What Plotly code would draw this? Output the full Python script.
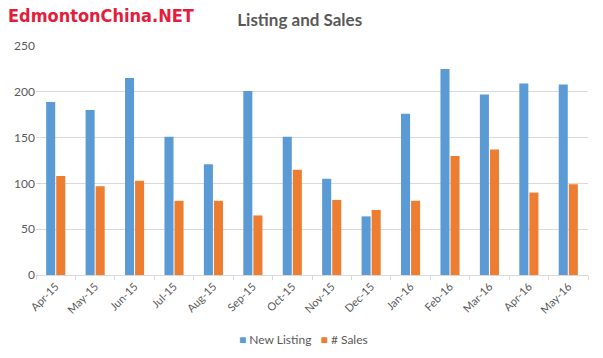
import plotly.graph_objects as go

months = ["Apr-15", "May-15", "Jun-15", "Jul-15", "Aug-15", "Sep-15", "Oct-15",
          "Nov-15", "Dec-15", "Jan-16", "Feb-16", "Mar-16", "Apr-16", "May-16"]
new_listing = [189, 180, 215, 151, 121, 201, 151, 105, 64, 176, 225, 197, 209, 208]
sales = [108, 97, 103, 81, 81, 65, 115, 82, 71, 81, 130, 137, 90, 99]
y_ticks = [0, 50, 100, 150, 200, 250]
series_names = ["New Listing", "# Sales"]
series_colors = ["#5B9BD5", "#ED7D31"]

FONT = "Lato, Open Sans, sans-serif"
GRAY = "#595959"

fig = go.Figure()
fig.add_trace(go.Bar(x=months, y=new_listing, name=series_names[0],
                     marker=dict(color=series_colors[0], line=dict(width=0))))
fig.add_trace(go.Bar(x=months, y=sales, name=series_names[1],
                     marker=dict(color=series_colors[1], line=dict(width=0))))

legend_text = "&nbsp;&nbsp;&nbsp;".join(
    f"<span style='color:{c}'>■</span> {n}" for n, c in zip(series_names, series_colors))

fig.update_layout(
    width=603, height=358,
    margin=dict(l=36, r=15, t=46, b=83, autoexpand=False),
    paper_bgcolor="white", plot_bgcolor="white",
    barmode="group", bargap=0.49, bargroupgap=0.1,
    font=dict(family=FONT, color=GRAY, size=11),
    title=dict(text="<b>Listing and Sales</b>", xref="container", x=0.497, xanchor="center",
               yref="container", y=1 - 20 / 358, yanchor="middle",
               font=dict(family=FONT, size=17, color=GRAY)),
    showlegend=False,
    xaxis=dict(type="category", tickangle=-45, showline=True, linecolor="#d9d9d9",
               linewidth=1, ticks="outside", tickson="boundaries", tickcolor="#d9d9d9",
               ticklen=4, showgrid=False, automargin=False,
               tickfont=dict(family=FONT, size=11, color=GRAY)),
    yaxis=dict(range=[0, 250], tickvals=y_ticks, showgrid=True, gridcolor="#d9d9d9",
               gridwidth=1, zeroline=False, showline=False, ticks="", automargin=False,
               tickfont=dict(family=FONT, size=12, color=GRAY)),
    annotations=[
        dict(text="<b>EdmontonChina.NET</b>", xref="paper", yref="paper",
             x=(6 - 36) / 552, y=(275 - 15) / 229, xanchor="left", yanchor="middle",
             showarrow=False,
             font=dict(family="Liberation Sans Narrow, DejaVu Sans Condensed, Roboto, sans-serif",
                       size=18, color="#E31E3C")),
        dict(text=legend_text, xref="paper", yref="paper",
             x=(303 - 36) / 552, y=(275 - 339) / 229, xanchor="center", yanchor="middle",
             showarrow=False, font=dict(family=FONT, size=12, color=GRAY)),
    ],
)

fig.write_html("out.html", config={"displayModeBar": False},
               post_script="document.body.style.margin='0';")
